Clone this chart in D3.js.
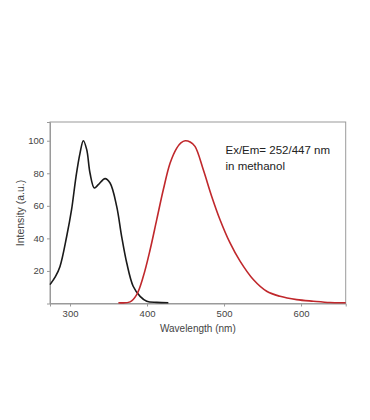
<!DOCTYPE html>
<html><head><meta charset="utf-8">
<script src="https://cdn.jsdelivr.net/npm/d3@7"></script>
<style>body{margin:0;background:#fff;}svg{display:block;}</style>
</head><body>
<svg id="c" width="370" height="420"></svg>
<script>
const excitationNm  = [274, 281, 287, 295.7, 302, 307.8, 313, 317.3, 321.7, 326, 331.6, 336.8, 345.5, 352, 360.6, 367, 373.6, 382, 391, 399.6, 412.6, 427.7];
const excitationVal = [11.6, 16.5, 22.8, 41.3, 57.6, 78, 92.4, 100, 94.5, 80, 71, 73, 76.7, 74, 59.7, 41.3, 25, 10.6, 4.4, 1.4, 0.7, 0.5];
const emissionNm  = [362.8, 378, 386.6, 395.2, 404, 412.6, 421.2, 430, 438.6, 444, 449.5, 456, 462.3, 473.2, 484, 494.8, 507.8, 520.8, 538, 555.4, 572.7, 594.4, 616, 637.7, 658];
const emissionVal = [0.5, 1, 5.5, 16.7, 33, 51.5, 70, 86.3, 95.5, 98.7, 100, 99.2, 96.5, 82, 65.8, 51.5, 37.2, 26, 14.7, 7.5, 4.4, 2.4, 1.4, 0.6, 0.5];
const xTicks = [300, 400, 500, 600];
const yTicks = [20, 40, 60, 80, 100];
const xLabel = "Wavelength (nm)";
const yLabel = "Intensity (a.u.)";
const noteLines = ["Ex/Em= 252/447 nm", "in methanol"];

const svg = d3.select("#c");
const L = 50, R = 345.7, T = 122, B = 303.5;
const x = d3.scaleLinear().domain([274, 658]).range([L, R]);
const y = d3.scaleLinear().domain([0, 111.5]).range([B, T]);
const font = "'Liberation Sans', Arial, sans-serif";
const gray = "#9a9a9a";

svg.append("rect").attr("x", L).attr("y", T).attr("width", R - L).attr("height", B - T)
  .attr("fill", "none").attr("stroke", gray).attr("stroke-width", 1);

const xa = svg.append("g").attr("transform", `translate(0,${B})`)
  .call(d3.axisBottom(x).tickValues(xTicks).tickSize(3).tickPadding(4).tickFormat(d3.format("d")));
const ya = svg.append("g").attr("transform", `translate(${L},0)`)
  .call(d3.axisLeft(y).tickValues(yTicks).tickSize(3).tickPadding(3).tickFormat(d3.format("d")));
[xa, ya].forEach(g => {
  g.select(".domain").attr("stroke", gray);
  g.selectAll(".tick line").attr("stroke", gray);
  g.selectAll(".tick text").attr("fill", "#444").style("font-family", font).style("font-size", "9.5px");
});

const line = d3.line().x(d => x(d[0])).y(d => y(d[1])).curve(d3.curveCatmullRom.alpha(0.5));
svg.append("path").datum(excitationNm.map((n, i) => [n, excitationVal[i]]))
  .attr("d", line).attr("fill", "none").attr("stroke", "#1a1a1a").attr("stroke-width", 1.6);
svg.append("path").datum(emissionNm.map((n, i) => [n, emissionVal[i]]))
  .attr("d", line).attr("fill", "none").attr("stroke", "#c0282c").attr("stroke-width", 1.6);

svg.append("text").attr("x", (L + R) / 2).attr("y", 332).attr("text-anchor", "middle")
  .attr("fill", "#444").style("font-family", font).style("font-size", "10px").text(xLabel);
svg.append("text").attr("transform", "translate(24,213) rotate(-90)").attr("text-anchor", "middle")
  .attr("fill", "#444").style("font-family", font).style("font-size", "10.5px").text(yLabel);

svg.selectAll(".note").data(noteLines).enter().append("text").attr("class", "note")
  .attr("x", 225.5).attr("y", (d, i) => 154 + i * 16)
  .attr("fill", "#222").style("font-family", font).style("font-size", "11.5px").text(d => d);
</script>
</body></html>
